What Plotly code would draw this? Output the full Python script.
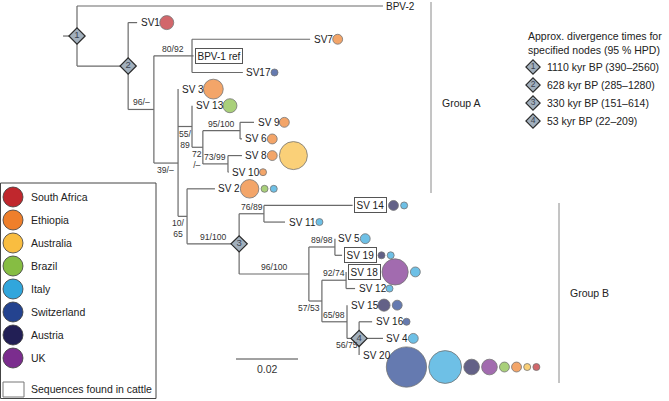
import plotly.graph_objects as go

W, H = 669, 401

# ---------------- tree data ----------------
node_ids = ["N1", "BPV-2", "N2", "SV1", "NA", "NB", "SV7", "BPV-1 ref", "SV17",
            "NC", "SV3", "ND", "SV13", "NF", "NG", "SV9", "SV6", "NH", "SV8", "SV10",
            "NE", "SV2", "N3", "NI", "SV14", "SV11", "NJ", "NK", "SV5", "SV19",
            "NL", "NM", "SV18", "SV12", "NN", "SV15", "N4", "SV16", "SV4", "SV20"]
node_parent = [None, "N1", "N1", "N2", "N2", "NA", "NB", "NB", "NB",
               "NA", "NC", "NC", "ND", "ND", "NF", "NG", "NG", "NF", "NH", "NH",
               "NC", "NE", "NE", "N3", "NI", "NI", "N3", "NJ", "NK", "NK",
               "NJ", "NL", "NM", "NM", "NL", "NN", "NN", "N4", "N4", "N4"]
# distance from node 1 (substitutions / site)
node_dist = [0.0, 0.0987, 0.0165, 0.0194, 0.0248, 0.0371, 0.0752, 0.0376, 0.0535,
             0.0326, 0.0326, 0.0371, 0.0371, 0.0406, 0.0526, 0.0571, 0.0532, 0.0487, 0.0532, 0.0489,
             0.0355, 0.0445, 0.0523, 0.0603, 0.0889, 0.0671, 0.0748, 0.0832, 0.0832, 0.0855,
             0.0790, 0.0868, 0.0868, 0.0897, 0.0871, 0.0871, 0.0910, 0.0952, 0.0987, 0.0910]
root_stem = 0.0045
# internal nodes whose joining point is drawn off the children midpoint (tip-index units)
node_y_override = {"NC": 9.45}
tip_label = {"BPV-2": "BPV-2", "SV1": "SV1", "SV7": "SV7", "BPV-1 ref": "BPV-1 ref", "SV17": "SV17",
             "SV3": "SV 3", "SV13": "SV 13", "SV9": "SV 9", "SV6": "SV 6", "SV8": "SV 8",
             "SV10": "SV 10", "SV2": "SV 2", "SV14": "SV 14", "SV11": "SV 11", "SV5": "SV 5",
             "SV19": "SV 19", "SV18": "SV 18", "SV12": "SV 12", "SV15": "SV 15", "SV16": "SV 16",
             "SV4": "SV 4", "SV20": "SV 20"}
cattle_tips = ["BPV-1 ref", "SV14", "SV19", "SV18"]

support_node = ["NA", "NB", "NC", "ND", "NF", "NG", "NH", "NE", "N3", "NI", "NJ", "NK",
                "NL", "NM", "NN", "N4"]
support_text = ["96/–", "80/92", "39/–", "55/<br>89", "72<br>/–", "95/100", "73/99", "10/<br>65",
                "91/100", "76/89", "96/100", "89/98", "57/53", "92/74", "65/98", "56/75"]
support_place = ["above", "above", "below", "below", "below", "above", "above", "below_start",
                 "above", "above", "above", "above", "below_start", "above", "above", "below_start"]

dated_nodes = ["N1", "N2", "N3", "N4"]
dated_num = ["1", "2", "3", "4"]
dated_age = [1110, 628, 330, 53]
dated_lo = [390, 285, 151, 22]
dated_hi = [2560, 1280, 614, 209]

countries = ["South Africa", "Ethiopia", "Australia", "Brazil", "Italy", "Switzerland", "Austria", "UK"]
country_colors = ["#C0272D", "#EF7F2B", "#F9BD40", "#86BD43", "#31A6DC", "#24438F", "#221F55", "#7B2D8E"]

circle_tip = ["SV1", "SV7", "SV17", "SV3", "SV13", "SV9", "SV6", "SV8", "SV8", "SV10",
              "SV2", "SV2", "SV2", "SV14", "SV14", "SV11", "SV5", "SV19", "SV19",
              "SV18", "SV18", "SV12", "SV15", "SV15", "SV16", "SV4",
              "SV20", "SV20", "SV20", "SV20", "SV20", "SV20", "SV20", "SV20"]
circle_country = ["South Africa", "Ethiopia", "Switzerland", "Ethiopia", "Brazil", "Ethiopia", "Ethiopia",
                  "Ethiopia", "Australia", "Ethiopia",
                  "Ethiopia", "Brazil", "Italy", "Austria", "Italy", "Italy", "Italy", "Austria", "Italy",
                  "UK", "Italy", "Italy", "Austria", "Switzerland", "Switzerland", "Italy",
                  "Switzerland", "Italy", "Austria", "UK", "Brazil", "Ethiopia", "Australia", "South Africa"]
circle_count = [4, 2, 1, 8, 4, 2, 2, 2, 16, 1,
                7, 1, 1, 2, 1, 1, 2, 1, 1,
                14, 2, 1, 3, 2, 1, 2,
                33, 22, 5, 5, 2, 2, 1, 1]

scale_len = 0.02

# ---------------- layout helpers ----------------
X0, PXU = 77.0, 3100.0     # pixel of node 1, pixels per unit distance
Y0, DY = 6.0, 16.62        # pixel of first tip, pixels per tip


def dx(px):
    return (px - X0) / PXU


def dy(py):
    return (py - Y0) / DY


def to_px(d):
    return X0 + PXU * d


AW = {'S': .667, 'V': .667, 'B': .667, 'P': .667, ' ': .278, '-': .333, 'r': .333, 'e': .556, 'f': .278}


def text_w(s, size):
    return sum(AW.get(c, .556) for c in s) * size


# ---------------- tree layout ----------------
xd = dict(zip(node_ids, node_dist))
par = dict(zip(node_ids, node_parent))
children = {n: [] for n in node_ids}
for n, p in zip(node_ids, node_parent):
    if p is not None:
        children[p].append(n)

yd = {}
order = []


def layout(n):
    if not children[n]:
        yd[n] = len(order)
        order.append(n)
    else:
        for c in children[n]:
            layout(c)
        yd[n] = node_y_override.get(n, (yd[children[n][0]] + yd[children[n][-1]]) / 2.0)


layout("N1")

bx, by = [], []
bx += [-root_stem, 0.0, None]
by += [yd["N1"], yd["N1"], None]
for n in node_ids:
    p = par[n]
    if p is not None:
        bx += [xd[p], xd[n], None]
        by += [yd[n], yd[n], None]
    if children[n]:
        ys = [yd[c] for c in children[n]] + [yd[n]]
        bx += [xd[n], xd[n], None]
        by += [min(ys), max(ys), None]

fig = go.Figure()
fig.add_trace(go.Scatter(x=bx, y=by, mode="lines", line=dict(color="#6a6a6a", width=1.2),
                         hoverinfo="skip"))

annotations = []
shapes = []


def ann(x, y, text, size, xanchor="left", yanchor="middle", color="#222", **kw):
    d = dict(x=x, y=y, text=text, showarrow=False, xanchor=xanchor, yanchor=yanchor,
             font=dict(size=size, color=color), xref="x", yref="y")
    d.update(kw)
    annotations.append(d)


# tip labels
LBL = 10
XSH = 1.5
BPAD, BW = 1.5, 1
label_end = {}
for n in order:
    lab = tip_label[n]
    boxed = n in cattle_tips
    extra = dict(xshift=XSH)
    if boxed:
        extra.update(bordercolor="#555", borderwidth=BW, borderpad=BPAD, bgcolor="white")
    ann(xd[n], yd[n], lab, LBL, **extra)
    label_end[n] = to_px(xd[n]) + XSH + text_w(lab, LBL) + (2 * (BPAD + BW) if boxed else 0)

# support values
for n, t, pl in zip(support_node, support_text, support_place):
    p = par[n]
    if pl == "above":
        ann((xd[p] + xd[n]) / 2, yd[n], t, 8.6, xanchor="center", yanchor="bottom", color="#333")
    elif pl == "below":
        ann((xd[p] + xd[n]) / 2, yd[n], t, 8.6, xanchor="center", yanchor="top", color="#333")
    else:
        ann(xd[p], yd[n], t, 8.6, xanchor="center", yanchor="top", color="#333")

# country circles
row_shift = {"SV20": 12}
GAP = 2.2
cx, cy, cs, cc = [], [], [], []
cursor = {}
ccol = dict(zip(countries, country_colors))
for t, c, k in zip(circle_tip, circle_country, circle_count):
    r = 3.5 * k ** 0.5
    if t not in cursor:
        cursor[t] = label_end[t] + (GAP if t not in row_shift else -1.5)
    else:
        cursor[t] += GAP
    centre = cursor[t] + r
    cursor[t] = centre + r
    cx.append(dx(centre))
    cy.append(yd[t] + row_shift.get(t, 0) / DY)
    cs.append(2 * r)
    cc.append(ccol[c])
fig.add_trace(go.Scatter(x=cx, y=cy, mode="markers",
                         marker=dict(size=cs, color=cc, line=dict(color="#3a3a3a", width=0.8)),
                         hoverinfo="skip"))

# dated node diamonds
fig.add_trace(go.Scatter(x=[xd[n] for n in dated_nodes], y=[yd[n] for n in dated_nodes],
                         mode="markers+text", text=dated_num, textposition="middle center",
                         textfont=dict(size=9.5, color="#3a4250"),
                         marker=dict(symbol="diamond", size=12.5, color="#A2B0BD",
                                     line=dict(color="#2a2a2a", width=1.2)),
                         hoverinfo="skip"))

# right legend: divergence times
row_y = [67, 85, 103, 121]
ann(dx(526), dy(28), "Approx. divergence times for<br>specified nodes (95 % HPD)", 10.5,
    xanchor="left", yanchor="top", align="left")
fig.add_trace(go.Scatter(x=[dx(533)] * 4, y=[dy(v) for v in row_y], mode="markers+text",
                         text=dated_num, textposition="middle center",
                         textfont=dict(size=8.5, color="#3a4250"),
                         marker=dict(symbol="diamond", size=11, color="#A2B0BD",
                                     line=dict(color="#2a2a2a", width=1.1)),
                         hoverinfo="skip"))
for v, a, lo, hi in zip(row_y, dated_age, dated_lo, dated_hi):
    ann(dx(545), dy(v), f"{a} kyr BP ({lo}–{hi})", 10.5)

# group brackets
shapes.append(dict(type="line", xref="x", yref="y", x0=dx(431), x1=dx(431), y0=dy(2), y1=dy(193),
                   line=dict(color="#8a8a8a", width=1)))
shapes.append(dict(type="line", xref="x", yref="y", x0=dx(559), x1=dx(559), y0=dy(203), y1=dy(383),
                   line=dict(color="#8a8a8a", width=1)))
ann(dx(440), dy(103), "Group A", 10.5)
ann(dx(568), dy(293), "Group B", 10.5)

# scale bar
sb0 = dx(236)
shapes.append(dict(type="line", xref="x", yref="y", x0=sb0, x1=sb0 + scale_len, y0=dy(359), y1=dy(359),
                   line=dict(color="#444", width=1)))
ann(sb0 + scale_len / 2, dy(361), "0.02", 10.5, xanchor="center", yanchor="top", color="#333")

# country legend box
shapes.append(dict(type="rect", xref="x", yref="y", x0=dx(0.5), x1=dx(156), y0=dy(183), y1=dy(398.5),
                   line=dict(color="#444", width=1), fillcolor="rgba(0,0,0,0)"))
leg_y = [197 + 23 * i for i in range(len(countries))]
fig.add_trace(go.Scatter(x=[dx(13)] * len(countries), y=[dy(v) for v in leg_y], mode="markers",
                         marker=dict(size=20, color=country_colors, line=dict(color="#3a3a3a", width=0.8)),
                         hoverinfo="skip"))
for v, name in zip(leg_y, countries):
    ann(dx(29), dy(v), name, 10.5)
shapes.append(dict(type="rect", xref="x", yref="y", x0=dx(3), x1=dx(24), y0=dy(382), y1=dy(397),
                   line=dict(color="#777", width=1), fillcolor="white"))
ann(dx(29), dy(389), "Sequences found in cattle", 10.5)

fig.update_layout(
    width=W, height=H, margin=dict(l=0, r=0, t=0, b=0),
    paper_bgcolor="white", plot_bgcolor="white", showlegend=False,
    xaxis=dict(range=[dx(0), dx(W)], visible=False, fixedrange=True),
    yaxis=dict(range=[dy(H), dy(0)], visible=False, fixedrange=True),
    font=dict(family="Liberation Sans, Arial, Helvetica, sans-serif", color="#222"),
    annotations=annotations, shapes=shapes,
)
fig.write_html("out.html", config={"displayModeBar": False, "staticPlot": True},
               post_script="document.body.style.margin='0px';document.body.style.overflow='hidden';")
